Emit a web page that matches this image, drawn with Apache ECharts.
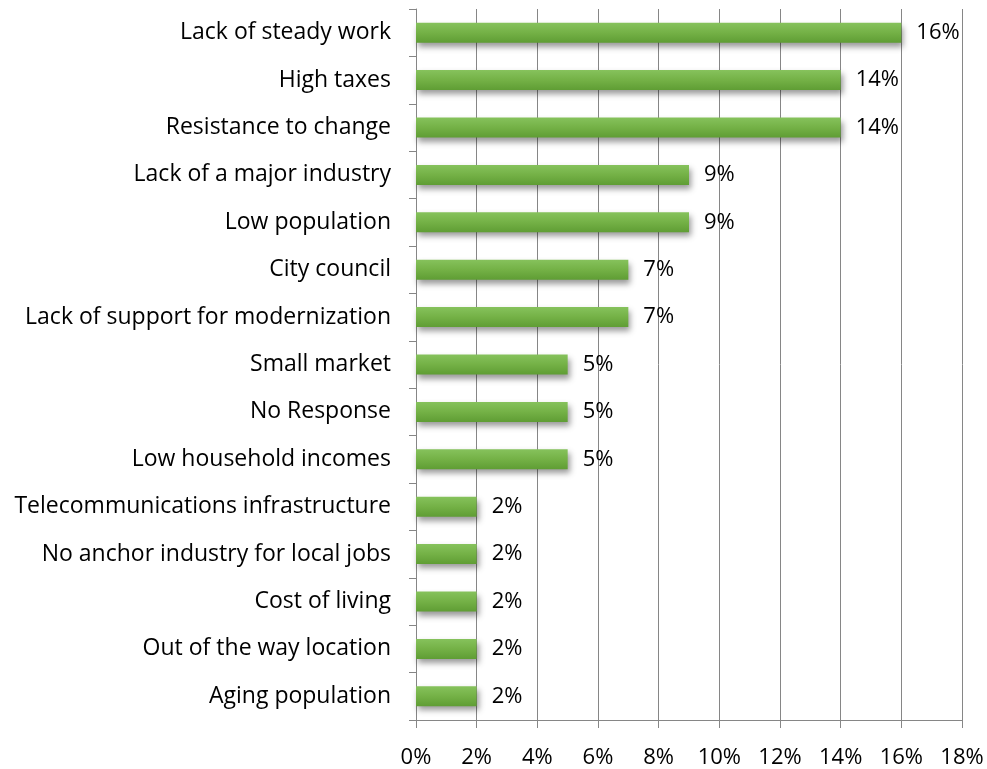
<!DOCTYPE html>
<html><head><meta charset="utf-8">
<script src="https://cdn.jsdelivr.net/npm/echarts@6/dist/echarts.min.js"></script>
<style>html,body{margin:0;padding:0;background:#fff}#c{width:987px;height:769px}</style>
</head><body><div id="c"></div>
<script>
const categories = ["Lack of steady work","High taxes","Resistance to change","Lack of a major industry","Low population","City council","Lack of support for modernization","Small market","No Response","Low household incomes","Telecommunications infrastructure","No anchor industry for local jobs","Cost of living","Out of the way location","Aging population"];
const values = [16,14,14,9,9,7,7,5,5,5,2,2,2,2,2];
const xTicks = [0,2,4,6,8,10,12,14,16,18];
const FONT = "'Open Sans', sans-serif";
const chart = echarts.init(document.getElementById('c'));
chart.setOption({
  animation:false,
  grid:{left:416,right:25,top:9,bottom:49,containLabel:false},
  xAxis:{type:'value',min:0,max:18,interval:2,
    axisLine:{show:true,lineStyle:{color:'#868686'}},
    axisTick:{show:true,length:8,lineStyle:{color:'#868686'}},
    splitLine:{show:true,lineStyle:{color:'#868686',width:1}},
    axisLabel:{formatter:v=>v+'%',color:'#000',fontFamily:FONT,fontSize:22,margin:27}},
  yAxis:{type:'category',data:categories,inverse:true,
    axisLine:{show:true,lineStyle:{color:'#868686'}},
    axisTick:{show:true,length:7,lineStyle:{color:'#868686'}},
    axisLabel:{color:'#000',fontFamily:FONT,fontSize:23,margin:25}},
  series:[{type:'bar',data:values,barWidth:20,
    itemStyle:{color:new echarts.graphic.LinearGradient(0,0,0,1,[
      {offset:0,color:'#86c25c'},{offset:0.5,color:'#74b146'},{offset:1,color:'#5f9d34'}]),
      shadowColor:'rgba(0,0,0,0.4)',shadowBlur:6,shadowOffsetX:2,shadowOffsetY:4},
    label:{show:true,position:'right',distance:15,formatter:p=>p.value+'%',color:'#000',fontFamily:FONT,fontSize:22}}]
});
</script></body></html>
